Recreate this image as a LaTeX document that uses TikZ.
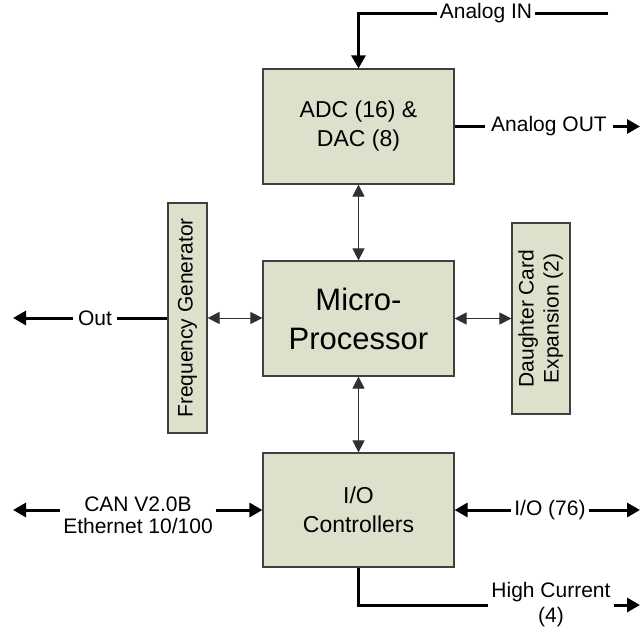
\documentclass[tikz,border=0pt]{standalone}
\usepackage{fontspec}
\setmainfont{Liberation Sans}
\usepackage{graphicx}
\usetikzlibrary{positioning,calc,arrows.meta}
\definecolor{blkFill}{HTML}{DDE1CB}
\definecolor{blkLine}{HTML}{404040}
\definecolor{busLine}{HTML}{303030}
\tikzset{
  blk/.style={
    draw=blkLine, fill=blkFill, line width=1.2pt,
    inner sep=0pt, align=center,
    font=\fontsize{23}{29}\selectfont,
  },
  bus arrow/.style={
    {Triangle[length=12pt, width=12pt]}-{Triangle[length=12pt, width=12pt]},
    line width=1pt, busLine,
  },
  ext line/.style={line width=3pt, black},
  ext arrow/.style={ext line, -{Triangle[length=13pt, width=14pt]}},
  sig label/.style={
    inner xsep=3pt, inner ysep=0pt, align=center,
    font=\fontsize{21}{24}\selectfont,
  },
}

\begin{document}
\begin{tikzpicture}[x=1pt, y=-1pt]

\useasboundingbox (0,0) rectangle (641,632);

% Blocks
\node[blk, minimum width=191pt, minimum height=115pt] (adc) at (358.5,126.5) {ADC (16) \&\\DAC (8)};
\node[blk, minimum width=191pt, minimum height=115pt, font=\fontsize{31}{39}\selectfont]
  (mpu) at (358.5,318.5) {Micro-\\Processor};
\node[blk, minimum width=191pt, minimum height=114pt] (ioc) at (358.5,510) {I/O\\Controllers};
\node[blk, minimum width=39pt, minimum height=230pt, font=\fontsize{21}{25}\selectfont]
  (fgen) at (187.5,318) {\rotatebox{90}{Frequency Generator}};
\node[blk, minimum width=58pt, minimum height=191pt, font=\fontsize{21}{25}\selectfont]
  (dcard) at (541,318.5) {\rotatebox{90}{\begin{tabular}{@{}c@{}}Daughter Card\\Expansion (2)\end{tabular}}};

% Internal buses (thin, both ways)
\draw[bus arrow] (adc.south) -- (mpu.north);
\draw[bus arrow] (mpu.south) -- (ioc.north);
\draw[bus arrow] (fgen.east) -- (fgen.east -| mpu.west);
\draw[bus arrow] (mpu.east) -- (mpu.east -| dcard.west);

% Analog IN
\node[sig label] (ain) at (486,13) {Analog IN};
\coordinate (ainEnd) at (608,13);
\draw[ext line] (ainEnd) -- (ain.east);
\draw[ext arrow] (ain.west) -| (adc.north);

% Analog OUT
\node[sig label, inner xsep=6pt] (aout) at (549,126.5) {Analog OUT};
\coordinate (aoutEnd) at (640,126.5);
\draw[ext line] (adc.east) -- (aout.west);
\draw[ext arrow] (aout.east) -- (aoutEnd);

% Out
\node[sig label, inner xsep=5pt] (out) at (95,318) {Out};
\coordinate (outEnd) at (13,318);
\draw[ext line] (fgen.west) -- (out.east);
\draw[ext arrow] (out.west) -- (outEnd);

% CAN / Ethernet
\node[sig label, font=\fontsize{21}{22}\selectfont] (can) at (138,515) {CAN V2.0B\\Ethernet 10/100};
\coordinate (canEnd) at (13,510);
\draw[ext arrow] (can.west |- ioc.west) -- (canEnd);
\draw[ext arrow] (can.east |- ioc.west) -- (ioc.west);

% I/O (76)
\node[sig label] (iol) at (550,510) {I/O (76)};
\coordinate (iolEnd) at (640,510);
\draw[ext arrow] (iol.west) -- (ioc.east);
\draw[ext arrow] (iol.east) -- (iolEnd);

% High Current
\node[sig label, font=\fontsize{21}{25}\selectfont] (hc) at (551,605) {High Current\\(4)};
\coordinate (hcEnd) at (640,605);
\draw[ext line] (ioc.south) |- (hc.west);
\draw[ext arrow] (hc.east) -- (hcEnd);

\end{tikzpicture}
\end{document}
